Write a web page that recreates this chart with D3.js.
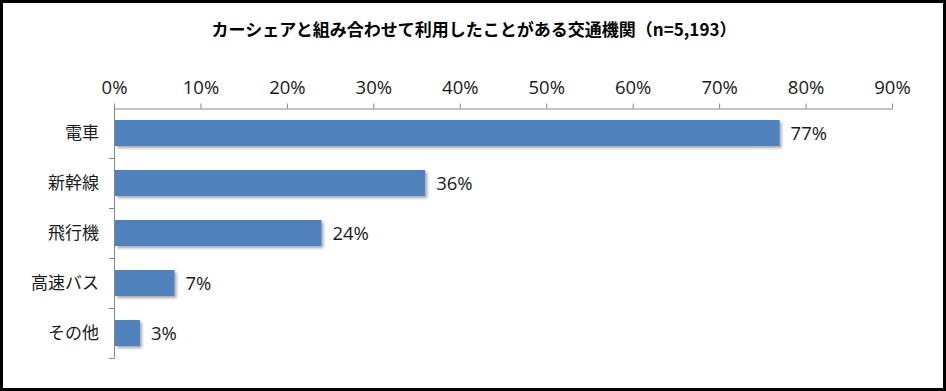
<!DOCTYPE html>
<html>
<head>
<meta charset="utf-8">
<script src="https://cdn.jsdelivr.net/npm/d3@7"></script>
<style>
  body { margin: 0; background: #fff; }
  svg { display: block; }
</style>
</head>
<body>
<div id="chart"></div>
<script>
const WIDTH = 946;
const HEIGHT = 391;

const categories = ["電車", "新幹線", "飛行機", "高速バス", "その他"];
const shares = [77, 36, 24, 7, 3];
const tickValues = [0, 10, 20, 30, 40, 50, 60, 70, 80, 90];
const title = "カーシェアと組み合わせて利用したことがある交通機関（n=5,193）";

const data = categories.map((c, i) => ({ name: c, value: shares[i] }));

const svg = d3.select("#chart")
    .append("svg")
    .attr("width", WIDTH)
    .attr("height", HEIGHT);

// soft shadow like the office chart bars
const defs = svg.append("defs");
const shadow = defs.append("filter")
    .attr("id", "shadow")
    .attr("x", "-5%").attr("y", "-20%")
    .attr("width", "120%").attr("height", "160%");
shadow.append("feDropShadow")
    .attr("dx", 2).attr("dy", 2)
    .attr("stdDeviation", 1.5)
    .attr("flood-color", "#000")
    .attr("flood-opacity", 0.35);

// outer frame
svg.append("rect")
    .attr("x", 1.5).attr("y", 1.5)
    .attr("width", WIDTH - 3).attr("height", HEIGHT - 3)
    .attr("fill", "#fff")
    .attr("stroke", "#000")
    .attr("stroke-width", 3);

svg.append("text")
    .text(title)
    .attr("x", WIDTH / 2 + 1)
    .attr("y", 36)
    .attr("text-anchor", "middle")
    .style("font-family", "'Noto Sans CJK JP', sans-serif")
    .style("font-weight", "bold")
    .style("font-size", "17px")
    .attr("fill", "#000");

const xScale = d3.scaleLinear()
    .domain([0, 90])
    .range([114, 892]);

const yScale = d3.scaleBand()
    .domain(categories)
    .range([108, 358])
    .paddingInner(0.48)
    .paddingOuter(0.24);

const axisColor = "#868686";
const numFont = "'Open Sans', sans-serif";
const labelFont = "'Noto Sans CJK JP', sans-serif";

// top axis
const xAxis = svg.append("g")
    .attr("transform", "translate(0,108.5)")
    .call(d3.axisTop(xScale)
        .tickValues(tickValues)
        .tickFormat(d => d + "%")
        .tickSizeInner(5)
        .tickSizeOuter(0)
        .tickPadding(10));
xAxis.select(".domain").attr("stroke", axisColor);
xAxis.selectAll(".tick line").attr("stroke", axisColor);
xAxis.selectAll(".tick text")
    .attr("fill", "#1a1a1a")
    .style("font-family", numFont)
    .style("font-size", "18.5px");

// left axis with separators between categories
const yAxisG = svg.append("g");
yAxisG.append("line")
    .attr("x1", 114.5).attr("x2", 114.5)
    .attr("y1", 108).attr("y2", 358)
    .attr("stroke", axisColor);
const edges = d3.range(categories.length + 1).map(i => 108 + i * yScale.step());
yAxisG.selectAll(".sep")
    .data(edges.slice(1))
    .join("line")
    .attr("x1", 109).attr("x2", 114.5)
    .attr("y1", d => d + 0.5).attr("y2", d => d + 0.5)
    .attr("stroke", axisColor);

svg.selectAll(".cat")
    .data(data)
    .join("text")
    .attr("x", 99)
    .attr("y", d => yScale(d.name) + yScale.bandwidth() / 2)
    .attr("dy", "0.36em")
    .attr("text-anchor", "end")
    .attr("fill", "#1a1a1a")
    .style("font-family", labelFont)
    .style("font-size", "17px")
    .text(d => d.name);

svg.selectAll(".bar")
    .data(data)
    .join("rect")
    .attr("x", xScale(0) + 1)
    .attr("y", d => yScale(d.name))
    .attr("width", d => xScale(d.value) - xScale(0) - 1)
    .attr("height", yScale.bandwidth())
    .attr("fill", "#4F81BD")
    .attr("filter", "url(#shadow)");

svg.selectAll(".val")
    .data(data)
    .join("text")
    .attr("x", d => xScale(d.value) + 11)
    .attr("y", d => yScale(d.name) + yScale.bandwidth() / 2)
    .attr("dy", "0.38em")
    .attr("fill", "#1a1a1a")
    .style("font-family", numFont)
    .style("font-size", "18.5px")
    .text(d => d.value + "%");
</script>
</body>
</html>
